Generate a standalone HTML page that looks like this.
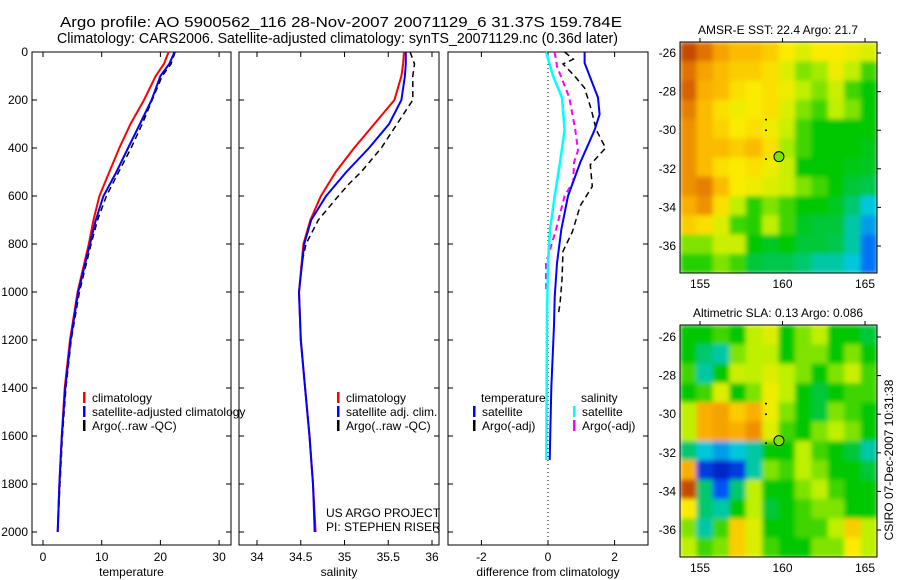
<!DOCTYPE html>
<html><head><meta charset="utf-8">
<style>
html,body{margin:0;padding:0;background:#fff;}
svg{display:block;font-family:"Liberation Sans",sans-serif;}
text{font-size:12px;fill:#000;}
</style></head>
<body>
<svg id="fig" width="900" height="580" viewBox="0 0 900 580">
<defs>
<filter id="blur" x="0" y="0" width="1" height="1"><feGaussianBlur stdDeviation="2.5" edgeMode="duplicate"/></filter>
<clipPath id="clip1"><rect x="680" y="42" width="197" height="231"/></clipPath>
<clipPath id="clip2"><rect x="680" y="325" width="197" height="232"/></clipPath>
</defs>
<g>
<text x="60" y="27" textLength="562" lengthAdjust="spacingAndGlyphs" style="font-size:15px">Argo profile: AO 5900562_116 28-Nov-2007 20071129_6 31.37S 159.784E</text>
<text x="57" y="43" textLength="561" lengthAdjust="spacingAndGlyphs" style="font-size:15px">Climatology: CARS2006. Satellite-adjusted climatology: synTS_20071129.nc (0.36d later)</text>
</g>
<g id="p1"></g>
<g id="p2"></g>
<g id="p3"></g>
<g id="m1"></g>
<g id="m2"></g>
<text x="893" y="460" transform="rotate(-90 893 460)" text-anchor="middle">CSIRO 07-Dec-2007 10:31:38</text>
</svg>
<script>
// ---- profile data ----
const depthTicks=[0,200,400,600,800,1000,1200,1400,1600,1800,2000];
const tempTicks=[0,10,20,30];
const salTicks=[34,34.5,35,35.5,36];
const diffTicks=[-2,0,2];
const climTD=[0,50,100,200,300,400,500,600,700,800,1000,1200,1400,1600,1800,2000];
const climT=[21.4,20.6,19.2,17.2,14.9,13,11.3,9.6,8.6,7.8,5.9,4.6,3.7,3.2,2.8,2.5];
const satT=[22.4,21.5,20,18.5,16.5,14.5,12.5,10.3,9,8,6,4.7,3.8,3.2,2.8,2.5];
const argoT=[22.5,21.8,20.3,18.6,16.9,15,12.9,10.8,9.3,8.2,6.2,4.8,3.9,3.3,2.9,2.5];
const climS=[35.68,35.67,35.65,35.57,35.34,35.11,34.9,34.73,34.61,34.53,34.48,34.5,34.55,34.6,34.64,34.67];
const satS=[35.7,35.7,35.69,35.65,35.51,35.28,35.02,34.79,34.62,34.54,34.48,34.5,34.55,34.6,34.64,34.66];
const argoSD=[0,50,100,200,300,400,500,550,600,700,800,900];
const argoS=[35.75,35.8,35.78,35.78,35.6,35.42,35.19,35.05,34.93,34.7,34.56,34.5];
const dTsatD=[0,46,190,260,325,460,600,740,880,1020,1140,1400,1700];
const dTsat=[1.1,1.1,1.5,1.55,1.4,0.97,0.6,0.4,0.27,0.2,0.18,0.1,0.05];
const dSsatD=[0,100,190,325,460,600,740,880,1100,1400,1700];
const dSsat=[-0.06,0.15,0.42,0.5,0.36,0.2,0.06,0,-0.03,-0.04,-0.05];
const dTargD=[0,30,50,100,150,240,325,400,470,560,640,750,830,950,1050,1100];
const dTarg=[0.5,0.76,0.45,0.8,1.1,1.3,1.45,1.73,1.27,1.33,0.97,0.73,0.45,0.42,0.36,0.3];
const dSargD=[0,60,190,325,410,460,540,600,740,880,950,1000];
const dSarg=[0.2,0.27,0.64,0.82,0.9,0.78,0.76,0.5,0.24,-0.06,-0.06,-0.05];
// ---- map data (colormap index 0..1) ----
const sstGrid=[
[.95,.9,.82,.78,.78,.75,.7,.65,.7,.7,.68,.65],
[.9,.82,.78,.75,.75,.72,.65,.55,.58,.68,.6,.5],
[.92,.8,.78,.72,.7,.72,.68,.6,.55,.62,.5,.45],
[.88,.78,.72,.68,.7,.72,.65,.55,.5,.6,.55,.45],
[.85,.78,.74,.7,.72,.68,.62,.5,.45,.45,.45,.45],
[.85,.78,.78,.75,.78,.72,.58,.5,.45,.45,.45,.43],
[.85,.78,.72,.7,.72,.68,.62,.45,.45,.45,.43,.42],
[.85,.88,.78,.7,.68,.65,.62,.55,.5,.45,.4,.38],
[.8,.85,.72,.6,.48,.55,.5,.45,.45,.42,.35,.25],
[.75,.72,.65,.5,.48,.6,.5,.42,.4,.4,.3,.2],
[.55,.55,.62,.62,.45,.42,.45,.4,.4,.38,.3,.15],
[.48,.48,.55,.5,.4,.38,.38,.35,.3,.3,.25,.15]];
const slaGrid=[
[.45,.45,.5,.45,.6,.65,.45,.55,.6,.45,.45,.4],
[.45,.35,.3,.55,.6,.6,.45,.55,.55,.45,.55,.45],
[.5,.3,.45,.62,.6,.65,.6,.55,.45,.55,.62,.5],
[.45,.5,.65,.45,.55,.68,.6,.45,.4,.45,.5,.5],
[.6,.8,.82,.75,.8,.68,.55,.45,.4,.55,.5,.45],
[.6,.8,.82,.8,.85,.65,.5,.45,.55,.6,.55,.45],
[.35,.25,.2,.25,.3,.45,.45,.6,.5,.45,.4,.3],
[.8,.05,0,.05,.3,.55,.5,.6,.55,.45,.45,.4],
[.95,.35,.1,.35,.6,.45,.45,.55,.6,.5,.45,.45],
[.7,.35,.3,.45,.6,.4,.45,.5,.55,.55,.45,.45],
[.55,.3,.5,.75,.65,.45,.45,.5,.5,.6,.75,.6],
[.6,.5,.55,.75,.65,.5,.45,.45,.55,.55,.7,.6]];
const lonTicks=[155,160,165];
const latTicks=[-26,-28,-30,-32,-34,-36];

const NS="http://www.w3.org/2000/svg";
function mk(parent,tag,attrs){const e=document.createElementNS(NS,tag);for(const k in attrs)e.setAttribute(k,attrs[k]);parent.appendChild(e);return e;}
const Y0=52,YB=545;
const yD=d=>Y0+d*0.24;

function panel(g,x0,x1,xs,ticks,fmt,title,showDepth){
  const r=mk(g,'rect',{x:x0,y:Y0,width:x1-x0,height:YB-Y0,fill:'none',stroke:'#000','stroke-width':1});
  
  
  ticks.forEach(t=>{const x=xs(t);
    mk(g,'line',{x1:x,x2:x,y1:YB,y2:YB-5,stroke:'#000'});
    mk(g,'line',{x1:x,x2:x,y1:Y0,y2:Y0+5,stroke:'#000'});
    const tx=mk(g,'text',{x:x,y:561,'text-anchor':'middle'});tx.textContent=fmt(t);
    
    
  });
  depthTicks.forEach(d=>{const y=yD(d);
    mk(g,'line',{x1:x0,x2:x0+5,y1:y,y2:y,stroke:'#000'});
    mk(g,'line',{x1:x1,x2:x1-5,y1:y,y2:y,stroke:'#000'});
    if(showDepth){const tx=mk(g,'text',{x:28,y:y+4,'text-anchor':'end'});tx.textContent=d;
      
      }
  });
  const tt=mk(g,'text',{x:(x0+x1)/2,y:576,'text-anchor':'middle'});tt.textContent=title;
  
  
}
function line(g,ds,vs,xs,color,dash,name,w){
  const pts=ds.map((d,i)=>xs(vs[i]).toFixed(1)+','+yD(d).toFixed(1)).join(' ');
  const p=mk(g,'polyline',{points:pts,fill:'none',stroke:color,'stroke-width':w||2,'stroke-dasharray':dash||'none'});
  
  
}
function legend(g,x,y,items){
  items.forEach((it,i)=>{
    mk(g,'rect',{x:x,y:y+i*14-6,width:2.5,height:11,fill:it[1]});
    const t=mk(g,'text',{x:x+9,y:y+i*14+4});t.textContent=it[0];
    
    
  });
}
// panel 1
const p1=document.getElementById('p1');
const xT=t=>43+t*5.87;
panel(p1,32,231,xT,tempTicks,String,'temperature',true);
line(p1,climTD,argoT,xT,'#000','6,4','argo-temperature-line',1.5);
line(p1,climTD,climT,xT,'#f00',null,'climatology-temperature-line');
line(p1,climTD,satT,xT,'#00f',null,'satellite-temperature-line');
legend(p1,83,398,[['climatology','#f00'],['satellite-adjusted climatology','#00f'],['Argo(..raw -QC)','#000']]);
// panel 2
const p2=document.getElementById('p2');
const xS=s=>257+(s-34)*87.5;
panel(p2,239,439,xS,salTicks,String,'salinity',false);
line(p2,argoSD,argoS,xS,'#000','6,4','argo-salinity-line',1.5);
line(p2,climTD,climS,xS,'#f00',null,'climatology-salinity-line');
line(p2,climTD,satS,xS,'#00f',null,'satellite-salinity-line');
legend(p2,337,398,[['climatology','#f00'],['satellite adj. clim.','#00f'],['Argo(..raw -QC)','#000']]);
const c1=mk(p2,'text',{x:326,y:517});c1.textContent='US ARGO PROJECT';


const c2=mk(p2,'text',{x:326,y:531});c2.textContent='PI: STEPHEN RISER';


// panel 3
const p3=document.getElementById('p3');
const xDf=v=>548+v*33.3;
panel(p3,448,648,xDf,diffTicks,String,'difference from climatology',false);
mk(p3,'line',{x1:xDf(0),x2:xDf(0),y1:Y0,y2:YB,stroke:'#000','stroke-dasharray':'1,3'});
line(p3,dTargD,dTarg,xDf,'#000','6,4','argo-temperature-diff-line',1.5);
line(p3,dSargD,dSarg,xDf,'#f0f','6,4','argo-salinity-diff-line',2);
line(p3,dSsatD,dSsat,xDf,'#0ff',null,'satellite-salinity-diff-line',2.5);
line(p3,dTsatD,dTsat,xDf,'#00f',null,'satellite-temperature-diff-line',2);
const lt=mk(p3,'text',{x:481,y:402});lt.textContent='temperature';


const ls=mk(p3,'text',{x:581,y:402});ls.textContent='salinity';


legend(p3,473,412,[['satellite','#00f'],['Argo(-adj)','#000']]);
legend(p3,573,412,[['satellite','#0ff'],['Argo(-adj)','#f0f']]);

// maps
const stops=[[0,[0,40,200]],[0.12,[0,90,255]],[0.25,[0,200,220]],[0.45,[0,200,0]],[0.6,[190,240,0]],[0.7,[250,235,0]],[0.8,[250,175,0]],[0.9,[225,115,0]],[1,[170,30,0]]];
function cmap(v){for(let i=1;i<stops.length;i++){if(v<=stops[i][0]){const a=stops[i-1],b=stops[i];const f=(v-a[0])/(b[0]-a[0]);return 'rgb('+a[1].map((c,k)=>Math.round(c+(b[1][k]-c)*f)).join(',')+')';}}return 'rgb(170,30,0)';}
function map(g,y0,y1,lat26,lat36,grid,title,clip){
  const x0=680,x1=877;
  const cw=(x1-x0)/grid[0].length,ch=(y1-y0)/grid.length;
  const cg=mk(g,'g',{'clip-path':'url(#'+clip+')'});
  const bg=mk(cg,'g',{filter:'url(#blur)'});
  grid.forEach((row,r)=>row.forEach((v,c)=>{
    const cell=mk(bg,'rect',{x:x0+c*cw,y:y0+r*ch,width:cw+0.6,height:ch+0.6,fill:cmap(v)});
    
    
  }));
  const fr=mk(g,'rect',{x:x0,y:y0,width:x1-x0,height:y1-y0,fill:'none',stroke:'#000'});
  
  
  const xL=l=>700+(l-155)*16.5;
  const yL=l=>lat26+(l+26)*(lat26-lat36)/10;
  lonTicks.forEach(l=>{mk(g,'line',{x1:xL(l),x2:xL(l),y1:y0,y2:y0-4,stroke:'#000'});
    const t=mk(g,'text',{x:xL(l),y:y1+15,'text-anchor':'middle'});t.textContent=l;
    
    });
  latTicks.forEach(l=>{mk(g,'line',{x1:x1,x2:x1+4,y1:yL(l),y2:yL(l),stroke:'#000'});
    const t=mk(g,'text',{x:676,y:yL(l)+4,'text-anchor':'end'});t.textContent=l;
    
    });
  const tt=mk(g,'text',{x:778,y:y0-8,'text-anchor':'middle'});tt.textContent=title;
  
  
  const px=xL(159.784),py=yL(-31.37);
  const mkr=mk(g,'circle',{cx:px,cy:py,r:5,fill:cmap(0.55),stroke:'#000'});
  
  
  [[-29.45],[-30.0],[-31.5]].forEach(p=>mk(g,'circle',{cx:xL(159),cy:yL(p[0]),r:1,fill:'#000'}));
}
map(document.getElementById('m1'),42,273,53,246,sstGrid,'AMSR-E SST: 22.4  Argo: 21.7','clip1');
map(document.getElementById('m2'),325,557,337,530,slaGrid,'Altimetric SLA: 0.13  Argo: 0.086','clip2');
</script>
</body></html>
